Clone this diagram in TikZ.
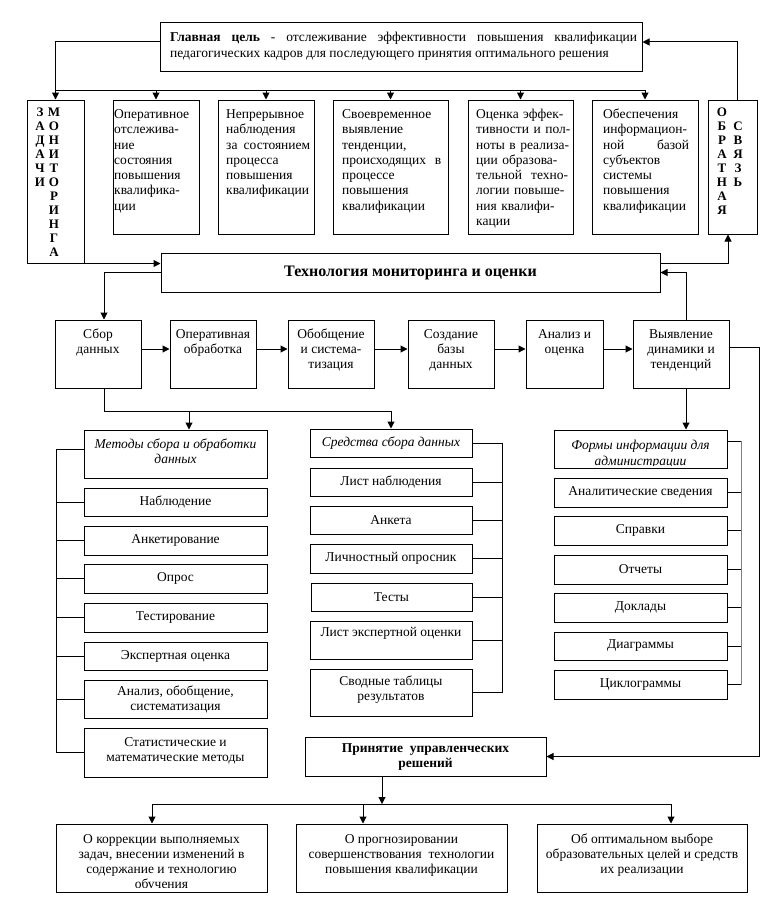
\documentclass[tikz,border=0pt]{standalone}
\usepackage{fontspec}
\setmainfont{Liberation Serif}
\usetikzlibrary{arrows.meta,fit}
\newcommand\fs{\fontsize{13.5}{15}\selectfont}
\newcommand\mkbox[5]{\node[bx, fit={(#2,#3) (#4,#5)}] (#1) {};}
\hyphenpenalty=10000
\exhyphenpenalty=10000
\begin{document}
\begin{tikzpicture}[x=1pt,y=-1pt,
  bx/.style={draw, line width=1pt, inner sep=0pt},
  tx/.style={inner sep=0pt, font=\fs, align=center},
  tl/.style={inner sep=0pt, font=\fontsize{13.5}{15.3}\selectfont, align=left, anchor=north west},
  lt/.style={inner sep=0pt, font=\bfseries\fontsize{13}{14}\selectfont, align=center, anchor=north},
  ln/.style={line width=1pt},
  ar/.style={line width=1pt, -{Triangle[length=7pt,width=7pt]}},
]
\path[use as bounding box, fill=white] (0,0) rectangle (776,907);

% ---------- top
\mkbox{goal}{160}{23}{642}{71}
\node[inner sep=0pt, anchor=north west, text width=467pt, align=justify,
  font=\fontsize{13.5}{16}\selectfont] (goalT) at (170,30)
  {\strut\textbf{Главная цель} - отслеживание эффективности повышения квалификации\linebreak педагогических кадров для последующего принятия оптимального решения};

\mkbox{zad}{27}{100}{84}{263}
\node[lt] (zadL) at (40,106) {\strut З\\А\\Д\\А\\Ч\\И};
\node[lt] (zadR) at (54,106) {\strut М\\О\\Н\\И\\Т\\О\\Р\\И\\Н\\Г\\А};

\mkbox{t1}{113}{100}{199}{234}
\mkbox{t2}{218}{100}{314}{234}
\mkbox{t3}{333}{100}{448}{234}
\mkbox{t4}{468}{100}{573}{234}
\mkbox{t5}{592}{100}{698}{234}
\mkbox{obr}{708}{100}{757}{234}

\node[tl, text width=86pt] (t1T) at (114,107.5) {\strut Оперативное\\отслежива-\\ние\\состояния\\повышения\\квалифика-\\ции};
\node[tl, text width=84pt] (t2T) at (226,107.5) {\strut Непрерывное\\наблюдения\\за\hfill состоянием\\процесса\\повышения\\квалификации};
\node[tl, text width=99pt] (t3T) at (342,107.5) {\strut Своевременное\\выявление\\тенденции,\\происходящих\hfill в\\процессе\\повышения\\квалификации};
\node[tl, text width=100pt] (t4T) at (476,107.5) {\strut Оценка эффек-\\тивности и пол-\\ноты в реализа-\\ции образова-\\тельной\ \ техно-\\логии повыше-\\ния квалифи-\\кации};
\node[tl, text width=86pt] (t5T) at (603,107.5) {\strut Обеспечения\\информацион-\\ной\hfill базой\\субъектов\\системы\\повышения\\квалификации};

\node[lt] (obrL) at (722,106) {\strut О\\Б\\Р\\А\\Т\\Н\\А\\Я};
\node[lt] (obrR) at (738,120) {\strut С\\В\\Я\\З\\Ь};

% bus from goal to tasks
\coordinate (bus) at (0,90);
\coordinate (gW) at ([yshift=5pt]goal.west);
\coordinate (gE) at ([yshift=5pt]goal.east);
\draw[ar] (gW) -| (zad.north);
\draw[ln] (zad.north |- bus) -- (t5.north |- bus);
\foreach \n in {t1,t2,t3,t4,t5} \draw[ar] (\n.north |- bus) -- (\n.north);
\coordinate (obrN) at ([xshift=4.5pt]obr.north);
\draw[ar] (obrN) |- (gE);

% ---------- technology
\mkbox{tech}{161}{253}{660}{292}
\node[inner sep=0pt, font=\bfseries\fontsize{16}{18}\selectfont] (techT) at (tech.center) {Технология мониторинга и оценки};
\draw[ar] (zad.south east) -- (zad.south east -| tech.west);
\coordinate (obrS) at ([xshift=-4.5pt]obr.south);
\draw[ar] (tech.east |- zad.south east) -| (obrS);

% ---------- process row
\mkbox{sbor}{55}{320}{141}{388}
\mkbox{oper}{170}{320}{256}{388}
\mkbox{obob}{288}{320}{374}{388}
\mkbox{sozd}{408}{320}{494}{388}
\mkbox{anal}{526}{320}{603}{388}
\mkbox{vyyav}{633}{320}{729}{388}
\node[tx, anchor=north] (sborT) at ([yshift=-8.5pt]sbor.north) {\strut Сбор\\данных};
\node[tx, anchor=north] (operT) at ([yshift=-8.5pt]oper.north) {\strut Оперативная\\обработка};
\node[tx, anchor=north] (obobT) at ([yshift=-8.5pt]obob.north) {\strut Обобщение\\и система-\\тизация};
\node[tx, anchor=north] (sozdT) at ([yshift=-8.5pt]sozd.north) {\strut Создание\\базы\\данных};
\node[tx, anchor=north] (analT) at ([yshift=-8.5pt]anal.north) {\strut Анализ и\\оценка};
\node[tx, anchor=north] (vyyavT) at ([yshift=-8.5pt]vyyav.north) {\strut Выявление\\динамики и\\тенденций};

\coordinate (sborN) at ([xshift=6pt]sbor.north);
\coordinate (sborS) at ([xshift=6pt]sbor.south);
\draw[ar] (tech.west) -| (sborN);
\foreach \a/\b in {sbor/oper,oper/obob,obob/sozd,sozd/anal,anal/vyyav}
  \draw[ar] ([yshift=5pt]\a.east) -- ([yshift=5pt]\b.west);
\coordinate (vyN) at ([xshift=5pt]vyyav.north);
\coordinate (vyS) at ([xshift=5pt]vyyav.south);
\coordinate (vyE) at ([yshift=7pt]vyyav.east);
\draw[ar] (vyN) |- (tech.east);

% ---------- methods column
\mkbox{metody}{84}{430}{267}{478}
\mkbox{nab}{84}{488}{267}{516}
\mkbox{anket}{84}{526}{267}{555}
\mkbox{opros}{84}{564}{267}{593}
\mkbox{test}{84}{603}{267}{632}
\mkbox{expert}{84}{642}{267}{670}
\mkbox{analiz}{84}{680}{267}{718}
\mkbox{stat}{84}{728}{267}{777}
\node[tx, anchor=north, font=\itshape\fs] (metodyT) at ([yshift=-8.5pt]metody.north) {\strut Методы сбора и обработки\\данных};
\node[tx] (nabT) at (nab.center) {Наблюдение};
\node[tx] (anketT) at (anket.center) {Анкетирование};
\node[tx] (oprosT) at (opros.center) {Опрос};
\node[tx] (testT) at (test.center) {Тестирование};
\node[tx] (expertT) at (expert.center) {Экспертная оценка};
\node[tx] (analizT) at (analiz.center) {Анализ, обобщение,\\систематизация};
\node[tx] (statT) at ([yshift=2pt]stat.center) {Статистические и\\математические методы};

\coordinate (lx) at (56,0);
\coordinate (metW) at ([yshift=5pt]metody.west);
\draw[ln] (metW) -| (lx |- stat.west) -- (stat.west);
\foreach \n in {nab,anket,opros,test,expert,analiz} \draw[ln] (\n.west) -- (lx |- \n.west);

% ---------- tools column
\mkbox{sred}{310}{429}{472}{457}
\mkbox{list1}{310}{468}{472}{496}
\mkbox{anketa}{310}{506}{472}{534}
\mkbox{lichn}{310}{544}{472}{573}
\mkbox{testy}{311}{583}{472}{611}
\mkbox{listexp}{310}{621}{472}{659}
\mkbox{svod}{310}{669}{472}{716}
\node[tx, font=\itshape\fs] (sredT) at (sred.center) {Средства сбора данных};
\node[tx] (list1T) at (list1.center) {Лист наблюдения};
\node[tx] (anketaT) at (anketa.center) {Анкета};
\node[tx] (lichnT) at (lichn.center) {Личностный опросник};
\node[tx] (testyT) at (testy.center) {Тесты};
\node[tx, anchor=north] (listexpT) at ([yshift=-5.5pt]listexp.north) {\strut Лист экспертной оценки};
\node[tx] (svodT) at ([yshift=3pt]svod.center) {Сводные таблицы\\результатов};

\coordinate (b2) at (0,411);
\coordinate (metN) at ([xshift=13.5pt]metody.north);
\draw[ar] (sborS) |- (sred.north |- b2) -- (sred.north);
\draw[ar] (metN |- b2) -- (metN);

\coordinate (rx2) at (502,0);
\draw[ln] (sred.east) -| (rx2 |- svod.east) -- (svod.east);
\foreach \n in {list1,anketa,lichn,testy,listexp} \draw[ln] (\n.east) -- (rx2 |- \n.east);

% ---------- forms column
\mkbox{formy}{554}{430}{727}{468}
\mkbox{analit}{554}{478}{727}{507}
\mkbox{sprav}{554}{516}{727}{545}
\mkbox{otch}{554}{555}{727}{584}
\mkbox{dokl}{554}{593}{727}{622}
\mkbox{diagr}{554}{632}{727}{660}
\mkbox{cikl}{554}{670}{727}{699}
\begin{scope}
\clip (formy.north west) rectangle ([yshift=3pt]formy.south east);
\node[tx, anchor=north, font=\itshape\fontsize{13.5}{16.5}\selectfont] (formyT) at ([yshift=-8pt]formy.north) {\strut Формы информации для\\администрации};
\end{scope}
\node[tx] (analitT) at (analit.center) {Аналитические сведения};
\node[tx] (spravT) at (sprav.center) {Справки};
\node[tx] (otchT) at (otch.center) {Отчеты};
\node[tx] (doklT) at (dokl.center) {Доклады};
\node[tx] (diagrT) at (diagr.center) {Диаграммы};
\node[tx] (ciklT) at (cikl.center) {Циклограммы};

\draw[ar] (vyS) -- (vyS |- formy.north);
\coordinate (rx3) at (741,0);
\coordinate (formE) at ([yshift=8pt]formy.east);
\draw[gray, line width=1pt] (formE -| rx3) -- (rx3 |- cikl.east);
\draw[ln] (formE) -- (formE -| rx3);
\foreach \n in {analit,sprav,otch,dokl,diagr,cikl} \draw[ln] (\n.east) -- (rx3 |- \n.east);

% ---------- decisions
\mkbox{prin}{305}{737}{546}{776}
\node[tx, font=\bfseries\fs] (prinT) at ([yshift=-1pt]prin.center) {Принятие\ \ управленческих\\решений};
\coordinate (rx) at (759,0);
\draw[ar] (vyE) -| (rx |- prin.east) -- (prin.east);

\mkbox{bA}{56}{824}{267}{892}
\mkbox{bB}{296}{824}{507}{892}
\mkbox{bC}{537}{824}{747}{892}
\begin{scope}
\clip (bA.north west) rectangle ([yshift=5pt]bA.south east);
\node[tx, anchor=north] (bAT) at ([yshift=-9pt]bA.north) {\strut О коррекции выполняемых\\задач, внесении изменений в\\содержание и технологию\\обучения};
\end{scope}
\node[tx, anchor=north] (bBT) at ([yshift=-9pt]bB.north) {\strut О прогнозировании\\совершенствования\ \ технологии\\повышения квалификации};
\node[tx, anchor=north] (bCT) at ([yshift=-9pt]bC.north) {\strut Об оптимальном выборе\\образовательных целей и средств\\их реализации};

\coordinate (b3) at (0,804);
\coordinate (prS) at ([xshift=-43.5pt]prin.south);
\coordinate (pA) at ([xshift=-9.5pt]bA.north);
\coordinate (pB) at ([xshift=-38.5pt]bB.north);
\coordinate (pC) at ([xshift=29pt]bC.north);
\draw[ar] (prS) -- (prS |- b3);
\draw[ln] (pA |- b3) -- (pC |- b3);
\foreach \p in {pA,pB,pC} \draw[ar] (\p |- b3) -- (\p);
\end{tikzpicture}
\end{document}
